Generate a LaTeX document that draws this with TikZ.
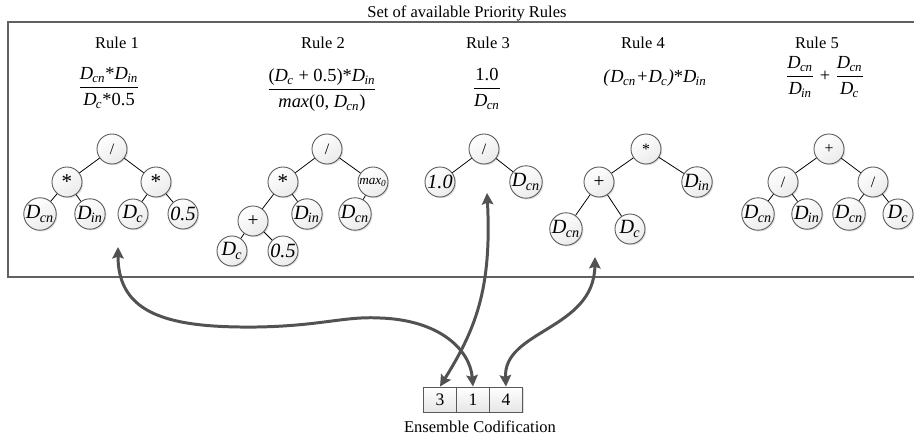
\documentclass[tikz,border=0pt]{standalone}
\usepackage{fontspec}
\setmainfont{Liberation Serif}
\usetikzlibrary{shadows,arrows.meta}
\newcommand\Dx[1]{\textit{D}\kern-0.04em\textsubscript{\textit{#1}}}
\begin{document}
\begin{tikzpicture}[x=0.02cm,y=-0.02cm,
  tn/.style={circle, draw=black!65, line width=0.5pt, minimum size=0.6cm, inner sep=0pt,
    top color=white, bottom color=black!8, shading angle=35,
    drop shadow={opacity=0.25, shadow xshift=0.7pt, shadow yshift=-0.7pt},
    font=\fontsize{11.5}{12}\selectfont},
  op/.style={tn, font=\fontsize{9}{10}\selectfont},
  ed/.style={draw=black, line width=0.45pt},
  lbl/.style={font=\fontsize{9.4}{11}\selectfont, inner sep=0pt},
  fm/.style={font=\fontsize{10.5}{12}\selectfont, inner sep=0pt},
  cell/.style={rectangle, draw=black!65, line width=0.5pt, minimum width=0.66cm, minimum height=0.5cm,
    inner sep=0pt, top color=white, bottom color=black!10,
    drop shadow={opacity=0.25, shadow xshift=0.6pt, shadow yshift=-0.6pt},
    font=\fontsize{10}{12}\selectfont},
  arr/.style={draw=black!68, line width=1.7pt,
    {Stealth[length=6.5pt,width=6.5pt,inset=1pt]}-{Stealth[length=6.5pt,width=6.5pt,inset=1pt]}}
]
\useasboundingbox (0,0) rectangle (914,439);
% outer box
\path[fill=white, draw=black!62, line width=0.8pt,
  drop shadow={opacity=0.2, shadow xshift=0.8pt, shadow yshift=-0.8pt}] (8,22) rectangle (940,277);
\node[lbl] (title) at (467,13) {Set of available Priority Rules};
% rule labels
\node[lbl] (l1) at (117,43) {Rule 1};
\node[lbl] (l2) at (323,43) {Rule 2};
\node[lbl] (l3) at (488,43) {Rule 3};
\node[lbl] (l4) at (643,43) {Rule 4};
\node[lbl] (l5) at (817,43) {Rule 5};
% formulas
\node[fm] (f1) at (109,88) {$\displaystyle\frac{\mbox{\Dx{cn}*\Dx{in}}}{\mbox{\Dx{c}*0.5}}$};
\node[fm] (f2) at (322,90) {$\displaystyle\frac{\mbox{(\Dx{c} + 0.5)*\Dx{in}}}{\mbox{\textit{max}(0, \Dx{cn})}}$};
\node[fm] (f3) at (487,89) {$\displaystyle\frac{\mbox{1.0}}{\mbox{\Dx{cn}}}$};
\node[fm] (f4) at (655,78) {\textit{(}\Dx{cn}\textit{+}\Dx{c}\textit{)}*\Dx{in}};
\node[fm] (f5) at (825,77) {$\displaystyle\frac{\mbox{\Dx{cn}}}{\mbox{\Dx{in}}}\mbox{ + }\frac{\mbox{\Dx{cn}}}{\mbox{\Dx{c}}}$};
% Rule 1 tree
\node[op] (a0) at (112,149) {/};
\node[op, font=\fontsize{12}{12}\selectfont] (a1) at (67,182) {*};
\node[op, font=\fontsize{12}{12}\selectfont] (a2) at (156,182) {*};
\node[tn] (a3) at (40,214) {\Dx{cn}};
\node[tn] (a4) at (90,214) {\Dx{in}};
\node[tn] (a5) at (133,214) {\Dx{c}};
\node[tn] (a6) at (183,214) {\textit{0.5}};
\draw[ed] (a0) -- (a1); \draw[ed] (a0) -- (a2);
\draw[ed] (a1) -- (a3); \draw[ed] (a1) -- (a4);
\draw[ed] (a2) -- (a5); \draw[ed] (a2) -- (a6);
% Rule 2 tree
\node[op] (b0) at (327,149) {/};
\node[op, font=\fontsize{12}{12}\selectfont] (b1) at (283,182) {*};
\node[op, font=\fontsize{7.5}{8}\selectfont] (b2) at (373,182) {\textit{max}\textsubscript{\textit{0}}};
\node[op, font=\fontsize{11}{12}\selectfont] (b3) at (253,221) {+};
\node[tn] (b4) at (307,214) {\Dx{in}};
\node[tn] (b5) at (355,214) {\Dx{cn}};
\node[tn] (b6) at (232,251) {\Dx{c}};
\node[tn] (b7) at (283,251) {\textit{0.5}};
\draw[ed] (b0) -- (b1); \draw[ed] (b0) -- (b2);
\draw[ed] (b1) -- (b3); \draw[ed] (b1) -- (b4);
\draw[ed] (b2) -- (b5);
\draw[ed] (b3) -- (b6); \draw[ed] (b3) -- (b7);
% Rule 3 tree
\node[op] (c0) at (484,149) {/};
\node[tn] (c1) at (440,182) {\textit{1.0}};
\node[tn] (c2) at (526,182) {\Dx{cn}};
\draw[ed] (c0) -- (c1); \draw[ed] (c0) -- (c2);
% Rule 4 tree
\node[op] (d0) at (646,149) {*};
\node[op, font=\fontsize{11}{12}\selectfont] (d1) at (599,182) {+};
\node[tn] (d2) at (697,182) {\Dx{in}};
\node[tn] (d3) at (566,229) {\Dx{cn}};
\node[tn] (d4) at (630,229) {\Dx{c}};
\draw[ed] (d0) -- (d1); \draw[ed] (d0) -- (d2);
\draw[ed] (d1) -- (d3); \draw[ed] (d1) -- (d4);
% Rule 5 tree
\node[op] (e0) at (829,149) {+};
\node[op] (e1) at (783,182) {/};
\node[op] (e2) at (873,182) {/};
\node[tn] (e3) at (758,214) {\Dx{cn}};
\node[tn] (e4) at (807,214) {\Dx{in}};
\node[tn] (e5) at (849,214) {\Dx{cn}};
\node[tn] (e6) at (898,214) {\Dx{c}};
\draw[ed] (e0) -- (e1); \draw[ed] (e0) -- (e2);
\draw[ed] (e1) -- (e3); \draw[ed] (e1) -- (e4);
\draw[ed] (e2) -- (e5); \draw[ed] (e2) -- (e6);
% ensemble
\node[cell] (k3) at (440,399.5) {3};
\node[cell] (k1) at (473,399.5) {1};
\node[cell] (k4) at (506,399.5) {4};
\node[lbl] (ens) at (480,427) {Ensemble Codification};
% arrow targets
\coordinate (t1) at (118,247);
\coordinate (t3) at (487,193);
\coordinate (t4) at (595,257);
\draw[arr] (t1) .. controls (118,315) and (170,328) .. (257,327)
  .. controls (320,326) and (345,316) .. (380,318)
  .. controls (440,320) and (470,350) .. (k1.north);
\draw[arr] (k3.north) .. controls (475,330) and (492,290) .. (t3);
\draw[arr] (k4.north) .. controls (503,330) and (594,330) .. (t4);
\end{tikzpicture}
\end{document}
